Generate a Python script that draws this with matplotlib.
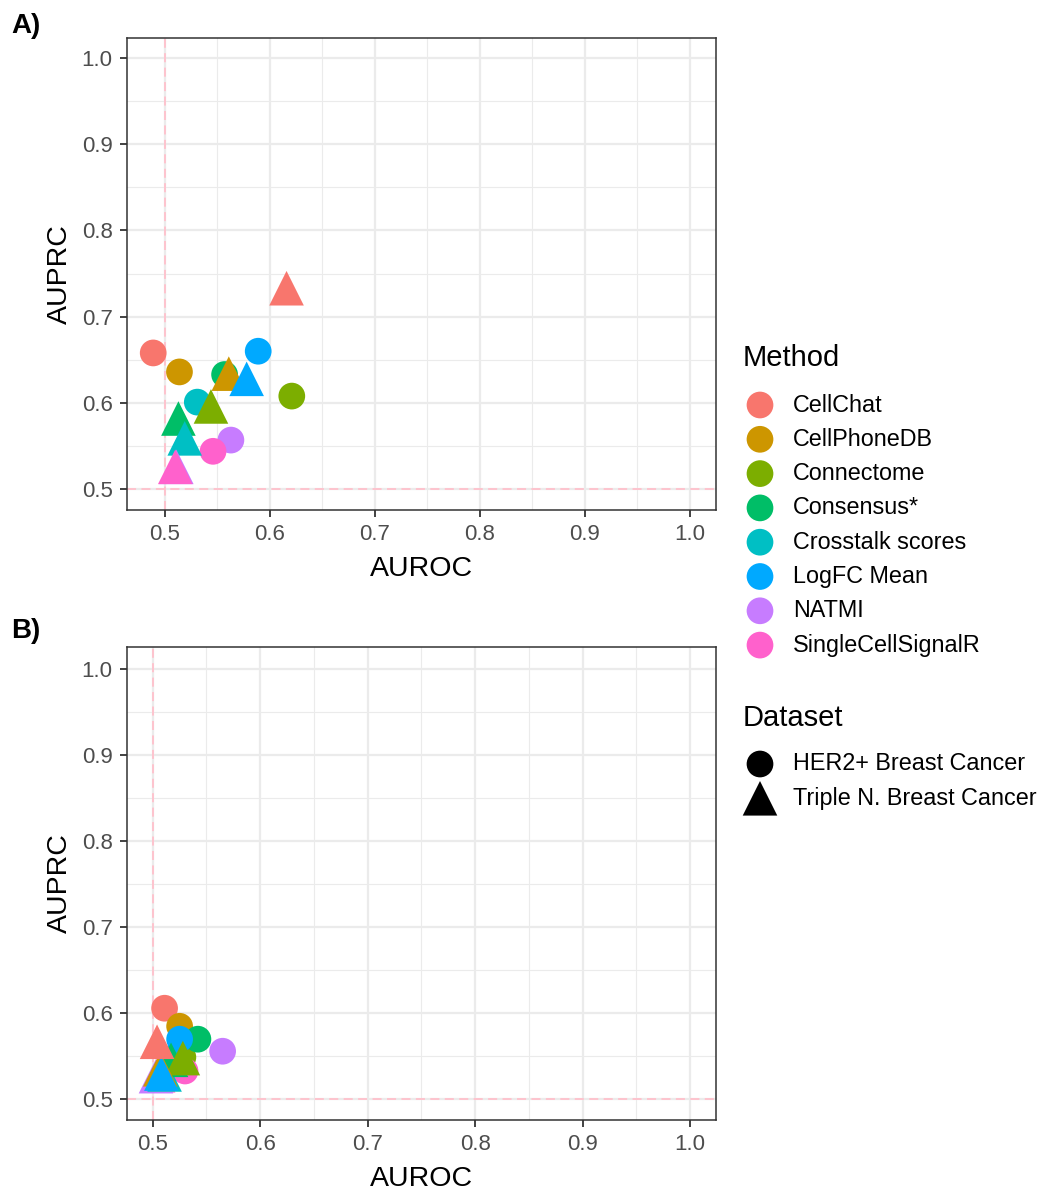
import matplotlib.pyplot as plt

plt.rcParams['font.family'] = ['Liberation Sans', 'DejaVu Sans']

methods = ["CellChat", "CellPhoneDB", "Connectome", "Consensus*",
           "Crosstalk scores", "LogFC Mean", "NATMI", "SingleCellSignalR"]
colors = ["#F8766D", "#CD9600", "#7CAE00", "#00BE67",
          "#00BFC4", "#00A9FF", "#C77CFF", "#FF61CC"]
datasets = ["HER2+ Breast Cancer", "Triple N. Breast Cancer"]
shapes = ["o", "^"]

# panel A (AUROC, AUPRC) per method
a_her2_auroc = [0.489, 0.514, 0.621, 0.557, 0.531, 0.589, 0.563, 0.546]
a_her2_auprc = [0.658, 0.636, 0.608, 0.633, 0.601, 0.660, 0.557, 0.544]
a_tnbc_auroc = [0.616, 0.561, 0.544, 0.513, 0.519, 0.578, 0.511, 0.510]
a_tnbc_auprc = [0.733, 0.634, 0.596, 0.582, 0.559, 0.628, 0.526, 0.526]

# panel B
b_her2_auroc = [0.511, 0.525, 0.528, 0.542, 0.520, 0.525, 0.565, 0.530]
b_her2_auprc = [0.605, 0.584, 0.548, 0.569, 0.548, 0.569, 0.555, 0.532]
b_tnbc_auroc = [0.504, 0.507, 0.528, 0.517, 0.511, 0.508, 0.503, 0.505]
b_tnbc_auprc = [0.566, 0.534, 0.547, 0.545, 0.528, 0.529, 0.526, 0.527]

# stacking of the overlapping triangles in panel B
b_tri_order = [7, 6, 4, 3, 2, 1, 5, 0]

ticks = [0.5, 0.6, 0.7, 0.8, 0.9, 1.0]
minor = [0.55, 0.65, 0.75, 0.85, 0.95]

W, H = 1045, 1191
fig = plt.figure(figsize=(W / 100, H / 100), dpi=100)
axA = fig.add_axes([0.1215, 0.5718, 0.5636, 0.3963])
axB = fig.add_axes([0.1215, 0.0596, 0.5636, 0.3971])

CIRC = 370
TRI = 620


def panel(ax, hx, hy, tx, ty, xlim, ylim, tri_order):
    ax.set_facecolor("white")
    ax.set_xlim(*xlim)
    ax.set_ylim(*ylim)
    ax.set_xticks(ticks)
    ax.set_yticks(ticks)
    ax.set_xticks(minor, minor=True)
    ax.set_yticks(minor, minor=True)
    ax.set_xticklabels([f"{t:.1f}" for t in ticks])
    ax.set_yticklabels([f"{t:.1f}" for t in ticks])
    ax.grid(True, which="major", color="#EBEBEB", lw=1.6, zorder=0)
    ax.grid(True, which="minor", color="#EBEBEB", lw=0.8, zorder=0)
    ax.tick_params(which="minor", length=0)
    ax.tick_params(which="major", length=5.3, width=1.3, color="#333333",
                   labelsize=16, labelcolor="#4D4D4D", pad=5)
    for s in ax.spines.values():
        s.set_color("#333333")
        s.set_linewidth(1.1)
    ax.axvline(0.5, color="pink", ls=(0, (5, 3)), lw=1.3, zorder=1)
    ax.axhline(0.5, color="pink", ls=(0, (5, 3)), lw=1.3, zorder=1)
    for i in range(len(methods)):
        ax.scatter(hx[i], hy[i], s=CIRC, marker="o", color=colors[i],
                   edgecolors="none", zorder=3)
    for i in tri_order:
        ax.scatter(tx[i], ty[i], s=TRI, marker="^", color=colors[i],
                   edgecolors="none", zorder=4)
    ax.set_xlabel("AUROC", fontsize=20.5, labelpad=8)
    ax.set_ylabel("AUPRC", fontsize=20.5, labelpad=6)
    ax.set_axisbelow(True)


panel(axA, a_her2_auroc, a_her2_auprc, a_tnbc_auroc, a_tnbc_auprc,
      (0.464, 1.025), (0.476, 1.023), range(len(methods)))
panel(axB, b_her2_auroc, b_her2_auprc, b_tnbc_auroc, b_tnbc_auprc,
      (0.476, 1.024), (0.475, 1.025), b_tri_order)

fig.text(11 / W, 1 - 26 / H, "A)", fontsize=20, fontweight="bold", va="center")
fig.text(11 / W, 1 - 631 / H, "B)", fontsize=20, fontweight="bold", va="center")

# legends drawn on an overlay in pixel units
lg = fig.add_axes([0, 0, 1, 1])
lg.set_xlim(0, W)
lg.set_ylim(H, 0)
lg.axis("off")
key_x, text_x, title_x = 760, 793, 743
lg.text(title_x, 358, "Method", fontsize=21, va="center")
for i, m in enumerate(methods):
    y = 405 + 34.3 * i
    lg.scatter(key_x, y, s=CIRC, marker="o", color=colors[i], edgecolors="none")
    lg.text(text_x, y, m, fontsize=16.8, va="center")
lg.text(title_x, 718, "Dataset", fontsize=21, va="center")
for i, d in enumerate(datasets):
    y = 764 + 34.3 * i
    lg.scatter(key_x, y, s=CIRC if i == 0 else TRI, marker=shapes[i],
               color="black", edgecolors="none")
    lg.text(text_x, y, d, fontsize=16.8, va="center")

fig.savefig("out.png", dpi=100)
